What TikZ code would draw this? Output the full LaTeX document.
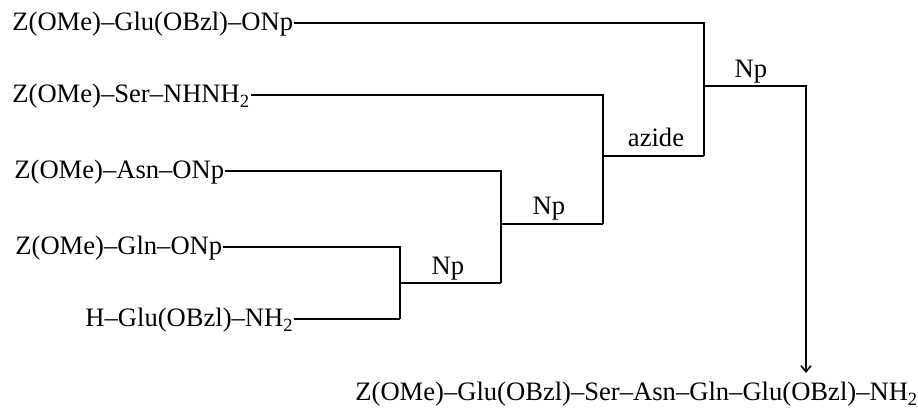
\documentclass[tikz,border=0pt]{standalone}
\usepackage{fontspec}
\setmainfont{Liberation Serif}
\usetikzlibrary{arrows.meta}
\begin{document}
\begin{tikzpicture}[x=0.5pt,y=-0.5pt,
  chem/.style={anchor=base west,inner sep=0pt,font=\fontsize{13.3}{16}\selectfont},
  lab/.style={anchor=base,inner sep=0pt,font=\fontsize{13.3}{16}\selectfont},
  link/.style={line width=0.8pt},
  ]
\useasboundingbox (0,0) rectangle (918,410);
% starting materials
\node[chem] (t1) at (12,31)  {Z(OMe)–Glu(OBzl)–ONp};
\node[chem] (t2) at (12,103) {Z(OMe)–Ser–NHNH\textsubscript{2}};
\node[chem] (t3) at (14,179) {Z(OMe)–Asn–ONp};
\node[chem] (t4) at (15,255) {Z(OMe)–Gln–ONp};
\node[chem] (t5) at (85,327) {H–Glu(OBzl)–NH\textsubscript{2}};
% product
\node[chem] (p) at (355,401) {Z(OMe)–Glu(OBzl)–Ser–Asn–Gln–Glu(OBzl)–NH\textsubscript{2}};
% junction points
\coordinate (v1b) at (400,319);
\coordinate (v1m) at (400,283);
\coordinate (v2b) at (501,283);
\coordinate (v2m) at (501,224);
\coordinate (v3b) at (603,224);
\coordinate (v3m) at (603,156);
\coordinate (v4b) at (704,156);
\coordinate (v4m) at (704,86);
\coordinate (tip) at (806,373);
% brackets
\draw[link] ([yshift=4pt]t4.base east) -| (v1b);
\draw[link] ([yshift=4pt]t5.base east) -- (v1b);
\draw[link] (v1m) -- (v2b);
\draw[link] ([yshift=4pt]t3.base east) -| (v2b);
\draw[link] (v2m) -- (v3b);
\draw[link] ([yshift=4pt]t2.base east) -| (v3b);
\draw[link] (v3m) -- (v4b);
\draw[link] ([yshift=4pt]t1.base east) -| (v4b);
\draw[link,-{Straight Barb[length=3pt,width=5pt]}] (v4m) -| (tip);
% reagent labels
\node[lab] (l1) at (448,275) {Np};
\node[lab] (l2) at (549,215) {Np};
\node[lab] (l3) at (656,147) {azide};
\node[lab] (l4) at (751,78)  {Np};
\end{tikzpicture}
\end{document}
